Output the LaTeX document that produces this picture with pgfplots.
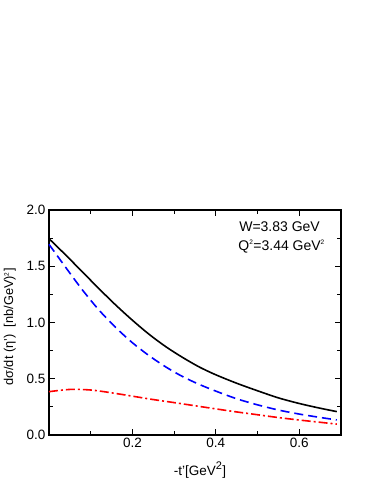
\documentclass[border=0pt]{standalone}
\usepackage{fontspec}
\setmainfont{Liberation Sans}
\usepackage{pgfplots}
\pgfplotsset{compat=1.18}
\begin{document}
\begin{tikzpicture}[x=1pt,y=1pt]
\path[use as bounding box] (-49,-49) rectangle (325,435);
\begin{axis}[
  at={(0,0)}, anchor=south west,
  width=292pt, height=225pt, scale only axis,
  xmin=0, xmax=0.7, ymin=0, ymax=2,
  xtick={0.2,0.4,0.6}, minor xtick={0.1,0.3,0.5},
  ytick={0,0.5,1,1.5,2}, minor ytick={0.25,0.75,1.25,1.75},
  tick align=inside,
  major tick length=6pt, minor tick length=4pt,
  tick style={line width=1.1pt, black},
  axis line style={line width=1.4pt},
  /pgf/number format/assume math mode=true,
  xticklabel style={font=\fontsize{13.5}{15}\selectfont, /pgf/number format/.cd, fixed, fixed zerofill, precision=1},
  yticklabel style={font=\fontsize{13.5}{15}\selectfont, /pgf/number format/.cd, fixed, fixed zerofill, precision=1},
  xlabel={-t'[GeV\textsuperscript{\fontsize{11}{11}\selectfont 2}]},
  xlabel style={at={(axis description cs:0.517,-0.156)}, anchor=center, font=\fontsize{13.5}{15}\selectfont},
  ylabel={dσ/dt (η')\ \ [nb/GeV)\textsuperscript{\fontsize{6.5}{6.5}\selectfont 2}]},
  ylabel style={at={(axis description cs:-0.134,0.48)}, anchor=center, rotate=0, font=\fontsize{12.8}{14}\selectfont},
  clip=false,
]
\addplot[black, line width=1.6pt, smooth] coordinates {
(0,1.745) (0.04,1.60) (0.08,1.45) (0.12,1.30) (0.16,1.155) (0.2,1.02) (0.24,0.895) (0.28,0.785) (0.32,0.69) (0.36,0.605) (0.4,0.535) (0.45,0.46) (0.5,0.393) (0.55,0.33) (0.6,0.28) (0.65,0.238) (0.69,0.208)};
\addplot[blue, line width=1.6pt, dash pattern=on 9pt off 5pt, smooth] coordinates {
(0,1.695) (0.04,1.49) (0.08,1.29) (0.12,1.11) (0.16,0.955) (0.2,0.82) (0.24,0.705) (0.28,0.605) (0.32,0.52) (0.36,0.45) (0.4,0.39) (0.45,0.322) (0.5,0.268) (0.55,0.222) (0.6,0.186) (0.65,0.156) (0.69,0.134)};
\addplot[red, line width=1.6pt, dash pattern=on 9pt off 3pt on 2pt off 3pt, smooth] coordinates {
(0,0.385) (0.05,0.405) (0.1,0.40) (0.15,0.375) (0.2,0.345) (0.25,0.315) (0.3,0.288) (0.35,0.26) (0.4,0.232) (0.45,0.205) (0.5,0.18) (0.55,0.155) (0.6,0.133) (0.65,0.113) (0.69,0.097)};
\node[anchor=west, font=\fontsize{14}{15}\selectfont, inner sep=0pt] at (axis description cs:0.651,0.924) {W=3.83 GeV};
\node[anchor=west, font=\fontsize{14}{15}\selectfont, inner sep=0pt] at (axis description cs:0.648,0.838) {Q\textsuperscript{\fontsize{6.5}{6.5}\selectfont 2}=3.44 GeV\textsuperscript{\fontsize{6.5}{6.5}\selectfont 2}};
\end{axis}
\end{tikzpicture}
\end{document}
